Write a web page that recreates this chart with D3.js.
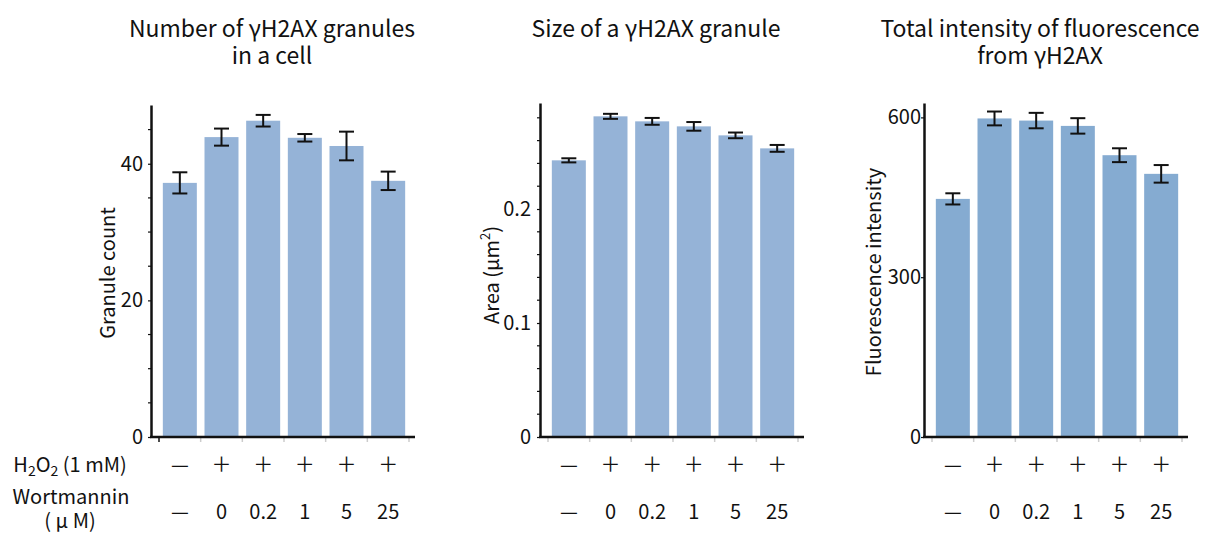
<!DOCTYPE html>
<html>
<head>
<meta charset="utf-8">
<script src="https://cdn.jsdelivr.net/npm/d3@7"></script>
<style>
	body { margin: 0; background: #fff; }
	svg text { font-family: "Noto Sans CJK JP", "Noto Sans", sans-serif; fill: #111; }
</style>
</head>
<body>
<svg id="chart" width="1209" height="534"></svg>
<script>
// treatment labels under each bar
var h2o2Labels = ["—", "＋", "＋", "＋", "＋", "＋"];
var wortLabels = ["—", "0", "0.2", "1", "5", "25"];
var groups = ["ctrl", "w0", "w0.2", "w1", "w5", "w25"];

// number of granules in a cell
var granuleCount = [37.2, 43.9, 46.3, 43.8, 42.6, 37.5];
var granuleCountErr = [1.55, 1.25, 0.85, 0.55, 2.1, 1.35];

// size of one granule (um^2)
var granuleArea = [0.2427, 0.2813, 0.2769, 0.2725, 0.2646, 0.2532];
var granuleAreaErr = [0.0018, 0.0022, 0.003, 0.0038, 0.0025, 0.003];

// total fluorescence
var intensity = [447, 598, 594, 584, 529, 494];
var intensityErr = [10.5, 13, 14.5, 14.5, 13, 16.5];

// tick values
var countTicks = [0, 20, 40];
var countMinor = [5, 10, 15, 25, 30, 35, 45];
var areaTicks = [0, 0.1, 0.2];
var areaMinor = [0.02, 0.04, 0.06, 0.08, 0.12, 0.14, 0.16, 0.18, 0.22, 0.24, 0.26, 0.28];
var intensityTicks = [0, 300, 600];

var svg = d3.select("#chart");

function drawPanel(p) {
	var g = svg.append("g");

	var y = d3.scaleLinear().domain([0, p.yMax]).range([437, p.top]);
	var x = d3.scaleBand().domain(groups)
		.range([p.axisX + 8, p.axisX + 258])
		.paddingInner(0.184).paddingOuter(0.092);

	// bars
	g.selectAll("rect.bar").data(p.values).enter().append("rect")
		.attr("class", "bar")
		.attr("x", function (d, i) { return x(groups[i]); })
		.attr("width", x.bandwidth())
		.attr("y", function (d) { return y(d); })
		.attr("height", function (d) { return y(0) - y(d); })
		.attr("fill", p.color);

	// error bars
	var capW = 15;
	var eb = g.selectAll("g.err").data(p.values).enter().append("g").attr("class", "err");
	eb.append("line")
		.attr("x1", function (d, i) { return x(groups[i]) + x.bandwidth() / 2; })
		.attr("x2", function (d, i) { return x(groups[i]) + x.bandwidth() / 2; })
		.attr("y1", function (d, i) { return y(d - p.errs[i]); })
		.attr("y2", function (d, i) { return y(d + p.errs[i]); });
	[-1, 1].forEach(function (s) {
		eb.append("line")
			.attr("x1", function (d, i) { return x(groups[i]) + x.bandwidth() / 2 - capW / 2; })
			.attr("x2", function (d, i) { return x(groups[i]) + x.bandwidth() / 2 + capW / 2; })
			.attr("y1", function (d, i) { return y(d + s * p.errs[i]); })
			.attr("y2", function (d, i) { return y(d + s * p.errs[i]); });
	});
	eb.selectAll("line").attr("stroke", "#111").attr("stroke-width", 2);

	// x-axis ticks at band boundaries (light grey)
	var bounds = groups.map(function (gr) { return x(gr) - x.step() * 0.092; });
	bounds.push(x.range()[1]);
	g.selectAll("line.xt").data(bounds).enter().append("line")
		.attr("x1", function (d) { return d; }).attr("x2", function (d) { return d; })
		.attr("y1", 438).attr("y2", 442)
		.attr("stroke", function (d, i) { return (i === 0 && p.darkFirst) ? "#111" : "#ccc"; })
		.attr("stroke-width", 1.5);

	// x axis line
	g.append("line")
		.attr("x1", p.axisX - 1).attr("x2", x.range()[1] + 6)
		.attr("y1", y(0)).attr("y2", y(0))
		.attr("stroke", "#111").attr("stroke-width", 2.5);

	// minor ticks
	if (p.minor) {
		g.selectAll("line.minor").data(p.minor).enter().append("line")
			.attr("x1", p.axisX - 3).attr("x2", p.axisX)
			.attr("y1", function (d) { return y(d); }).attr("y2", function (d) { return y(d); })
			.attr("stroke", "#111").attr("stroke-width", 1.2);
	}

	// y axis
	var ax = g.append("g")
		.attr("transform", "translate(" + p.axisX + ",0)")
		.call(d3.axisLeft(y).tickValues(p.ticks).tickSize(3).tickSizeOuter(0)
			.tickPadding(p.tickPad).tickFormat(d3.format("")));
	ax.select(".domain").attr("stroke", "#111").attr("stroke-width", 2.5);
	ax.selectAll(".tick line").attr("stroke", "#111").attr("stroke-width", 1.2);
	ax.selectAll(".tick text").attr("font-size", 20).attr("fill", "#111")
		.attr("font-family", "Noto Sans CJK JP, Noto Sans, sans-serif");

	// titles, one text per line
	p.title.forEach(function (line, i) {
		g.append("text").attr("text-anchor", "middle").attr("font-size", 23)
			.attr("x", p.titleX).attr("y", 37 + i * 26.5)
			.text(line);
	});

	// y label
	var yl = g.append("text")
		.attr("transform", "translate(" + p.yLabelX + "," + p.yLabelY + ") rotate(-90)")
		.attr("text-anchor", "middle").attr("font-size", 20);
	p.yLabel.forEach(function (part) {
		var ts = yl.append("tspan").text(part.t);
		if (part.sup) ts.attr("font-size", 13).attr("baseline-shift", "super");
	});

	// treatment rows
	g.selectAll("text.h2o2").data(h2o2Labels).enter().append("text")
		.attr("x", function (d, i) { return x(groups[i]) + x.bandwidth() / 2; })
		.attr("y", 472).attr("text-anchor", "middle").attr("font-size", 20)
		.text(function (d) { return d; });
	g.selectAll("text.wort").data(wortLabels).enter().append("text")
		.attr("x", function (d, i) { return x(groups[i]) + x.bandwidth() / 2; })
		.attr("y", 519).attr("text-anchor", "middle").attr("font-size", 20)
		.text(function (d) { return d; });
}

drawPanel({
	axisX: 151, top: 105, yMax: 48.6, values: granuleCount, errs: granuleCountErr,
	ticks: countTicks, minor: countMinor, tickPad: 5, color: "#95b3d7", darkFirst: true,
	title: ["Number of γH2AX granules", "in a cell"], titleX: 272,
	yLabel: [{ t: "Granule count" }], yLabelX: 115, yLabelY: 273
});
drawPanel({
	axisX: 540, top: 103, yMax: 0.293, values: granuleArea, errs: granuleAreaErr,
	ticks: areaTicks, minor: areaMinor, tickPad: 6, color: "#95b3d7", darkFirst: false,
	title: ["Size of a γH2AX granule"], titleX: 656,
	yLabel: [{ t: "Area (μm" }, { t: "2", sup: true }, { t: ")" }], yLabelX: 499, yLabelY: 275
});
drawPanel({
	axisX: 924, top: 103, yMax: 627, values: intensity, errs: intensityErr,
	ticks: intensityTicks, minor: null, tickPad: 0, color: "#85abd1", darkFirst: false,
	title: ["Total intensity of fluorescence", "from γH2AX"], titleX: 1040,
	yLabel: [{ t: "Fluorescence intensity" }], yLabelX: 881, yLabelY: 272
});

// row headers on the left
var hdr = svg.append("g");
var h1 = hdr.append("text").attr("x", 70).attr("y", 472).attr("text-anchor", "middle").attr("font-size", 20);
h1.append("tspan").text("H");
h1.append("tspan").text("2").attr("font-size", 14).attr("dy", 4);
h1.append("tspan").text("O").attr("dy", -4);
h1.append("tspan").text("2").attr("font-size", 14).attr("dy", 4);
h1.append("tspan").text(" (1 mM)").attr("dy", -4);
hdr.append("text").attr("x", 71).attr("y", 504).attr("text-anchor", "middle").attr("font-size", 20).text("Wortmannin");
hdr.append("text").attr("x", 70).attr("y", 528).attr("text-anchor", "middle").attr("font-size", 20).text("( μ M)");
</script>
</body>
</html>
